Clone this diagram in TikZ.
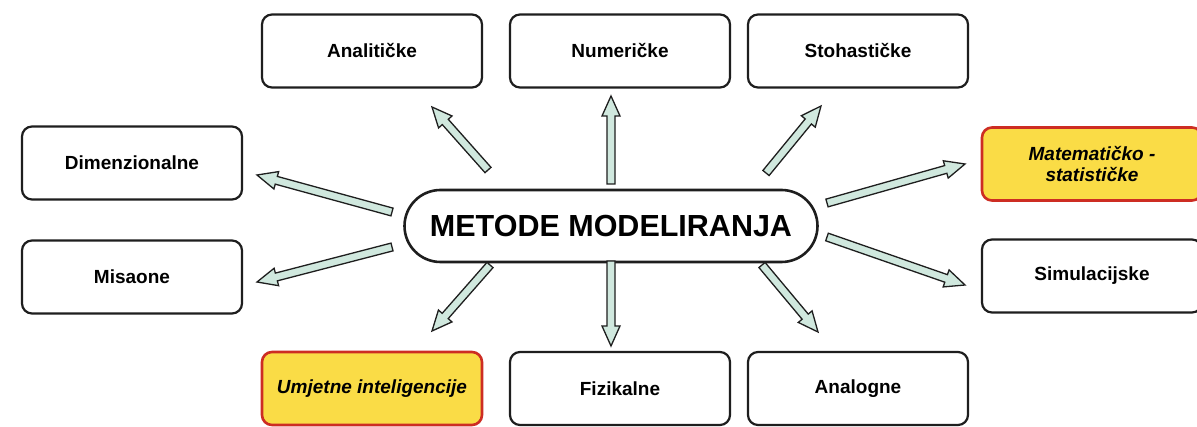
\documentclass[tikz,border=0pt]{standalone}
\usepackage{fontspec}
\setmainfont{Liberation Sans}
\usetikzlibrary{calc}
\definecolor{arrfill}{RGB}{208,232,222}
\definecolor{hlfill}{RGB}{250,220,70}
\definecolor{hlborder}{RGB}{205,45,35}
\definecolor{ink}{RGB}{30,30,30}
\tikzset{
  box/.style={draw=ink, line width=2.2pt, rounded corners=10pt, fill=white,
    minimum width=220pt, minimum height=73pt, align=center,
    font=\fontsize{19}{21}\selectfont\bfseries},
  hlbox/.style={box, draw=hlborder, fill=hlfill, line width=2.6pt,
    font=\fontsize{19}{21}\selectfont\bfseries\itshape},
  centre/.style={draw=ink, line width=2.6pt, rounded corners=36pt, fill=white,
    minimum width=413pt, minimum height=72pt,
    font=\fontsize{30.5}{34}\selectfont\bfseries},
  barrow/.style={draw=ink, line width=1.3pt, fill=arrfill, line join=miter},
}
\newcommand{\blockarr}[2]{%
  \coordinate (hb) at ($(#2)!20pt!(#1)$);
  \draw[barrow] ($(#1)!4pt!90:(#2)$) -- ($(hb)!4pt!90:(#2)$) -- ($(hb)!9pt!90:(#2)$)
     -- (#2) -- ($(hb)!9pt!-90:(#2)$) -- ($(hb)!4pt!-90:(#2)$) -- ($(#1)!4pt!-90:(#2)$) -- cycle;}
\begin{document}
\begin{tikzpicture}[x=1pt,y=-1pt]
\useasboundingbox (0,0) rectangle (1197,427);
\fill[white] (0,0) rectangle (1197,427);
\node[centre] (c) at (611,226) {METODE MODELIRANJA};
\node[box] (an) at (372,51) {Analitičke};
\node[box] (nu) at (620,51) {Numeričke};
\node[box] (st) at (858,51) {Stohastičke};
\node[box] (di) at (132,163) {Dimenzionalne};
\node[box] (mi) at (132,277) {Misaone};
\node[hlbox] (ma) at (1092,164) {Matematičko -\\statističke};
\node[box] (si) at (1092,276) {Simulacijske};
\node[hlbox] (um) at (372,388.5) {Umjetne inteligencije};
\node[box] (fi) at (620,388.5) {Fizikalne};
\node[box] (ag) at (858,388.5) {Analogne};
% arrow endpoints
\coordinate (a1s) at (488,170); \coordinate (a1e) at (432,107);
\coordinate (a2s) at (611,184); \coordinate (a2e) at (611,96);
\coordinate (a3s) at (766,173); \coordinate (a3e) at (821,106);
\coordinate (a4s) at (392,212); \coordinate (a4e) at (257,175);
\coordinate (a5s) at (392,247); \coordinate (a5e) at (257,282);
\coordinate (a6s) at (827,203); \coordinate (a6e) at (965,164);
\coordinate (a7s) at (827,237); \coordinate (a7e) at (965,285);
\coordinate (a8s) at (490,265); \coordinate (a8e) at (432,331);
\coordinate (a9s) at (611,261); \coordinate (a9e) at (611,346);
\coordinate (a10s) at (762,265); \coordinate (a10e) at (818,332);
\blockarr{a1s}{a1e}
\blockarr{a2s}{a2e}
\blockarr{a3s}{a3e}
\blockarr{a4s}{a4e}
\blockarr{a5s}{a5e}
\blockarr{a6s}{a6e}
\blockarr{a7s}{a7e}
\blockarr{a8s}{a8e}
\blockarr{a9s}{a9e}
\blockarr{a10s}{a10e}
\end{tikzpicture}
\end{document}
